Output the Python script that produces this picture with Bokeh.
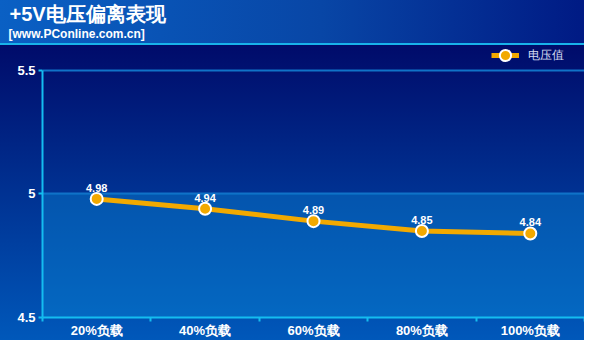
from bokeh.plotting import figure
from bokeh.models import (Range1d, LinearAxis, FixedTicker, BoxAnnotation, Title,
                          Legend, LegendItem, ColumnDataSource)
from bokeh.embed import file_html
from bokeh.resources import INLINE
from bokeh.core.properties import value

# ---- data ----
categories = ["20%负载", "40%负载", "60%负载", "80%负载", "100%负载"]
voltages = [4.98, 4.94, 4.89, 4.85, 4.84]
y_ticks = [4.5, 5, 5.5]
y_tick_labels = ["4.5", "5", "5.5"]
series_name = "电压值"
title_text = "+5V电压偏离表现"
subtitle_text = "[www.PConline.com.cn]"

FONT = "Liberation Sans"
CYAN = "#14bdf0"
ORANGE = "#f2a900"

src = ColumnDataSource(dict(cat=categories, v=voltages,
                            lbl=[f"{v:.2f}" for v in voltages]))

p = figure(width=584, height=340, x_range=categories, y_range=Range1d(4.5, 5.621),
           x_axis_type=None, title=None, output_backend="svg", toolbar_location=None,
           min_border_left=42, min_border_right=0, min_border_bottom=22, min_border_top=0)
p.background_fill_color = None
p.border_fill_color = None
p.outline_line_color = None
p.styles = {"background": (
    "linear-gradient(to right, #0a60c4, #0846a6 55%, #001a84) 0 0 / 100% 43px no-repeat, "
    "linear-gradient(#18b2ea, #18b2ea) 0 43px / 100% 2px no-repeat, "
    "linear-gradient(to bottom, #000b6a 0px, #000b6a 45px, #0058ba 100%)")}

# titles (subtitle first = nearest the plot)
p.add_layout(Title(text=subtitle_text, text_font=FONT, text_font_size="12px",
                   text_font_style="bold", text_color="white", offset=-34, standoff=0), "above")
p.add_layout(Title(text=title_text, text_font=FONT, text_font_size="20px",
                   text_font_style="bold", text_color="white", offset=-33, standoff=0), "above")

# lighter band 4.5 - 5
p.add_layout(BoxAnnotation(bottom=4.5, top=5, fill_color="#0a89d7", fill_alpha=0.4,
                           line_color=None, level="underlay"))

# y axis
yt = FixedTicker(ticks=y_ticks)
p.yaxis.ticker = yt
p.yaxis.bounds = (min(y_ticks), max(y_ticks))
p.yaxis.major_label_overrides = {t: l for t, l in zip(y_ticks, y_tick_labels)}
p.yaxis.axis_line_color = CYAN
p.yaxis.axis_line_width = 2
p.yaxis.major_tick_line_color = CYAN
p.yaxis.major_tick_line_width = 2
p.yaxis.major_tick_in = 0
p.yaxis.major_tick_out = 4
p.yaxis.minor_tick_line_color = None
p.yaxis.major_label_text_color = "white"
p.yaxis.major_label_text_font = FONT
p.yaxis.major_label_text_font_style = "bold"
p.yaxis.major_label_text_font_size = "13px"
p.yaxis.major_label_standoff = 3

p.ygrid.ticker = yt
p.ygrid.grid_line_color = "#1072c8"
p.ygrid.grid_line_width = 2
p.xgrid.visible = False

# x axis: labels at category centres, tick marks at category boundaries
n = len(categories)
centers = [i + 0.5 for i in range(n)]
bounds = list(range(n + 1))
xaxis = LinearAxis(ticker=FixedTicker(ticks=centers, minor_ticks=bounds),
                   major_label_overrides={c: cat for c, cat in zip(centers, categories)},
                   major_tick_line_color=None, major_tick_in=0, major_tick_out=0,
                   minor_tick_in=0, minor_tick_out=4,
                   minor_tick_line_color=CYAN, minor_tick_line_width=2,
                   axis_line_color=CYAN, axis_line_width=2, axis_label_standoff=0,
                   major_label_text_color="white", major_label_text_font=FONT,
                   major_label_text_font_style="bold", major_label_text_font_size="13px",
                   major_label_standoff=1)
p.add_layout(xaxis, "below")

# series
line_r = p.line(x="cat", y="v", source=src, line_color=ORANGE, line_width=5)
sc_r = p.scatter(x="cat", y="v", source=src, size=12, fill_color=ORANGE,
                 line_color="white", line_width=2)
p.text(x="cat", y="v", text="lbl", source=src, y_offset=-11, text_align="center",
       text_baseline="alphabetic", text_color="white", text_font=value(FONT),
       text_font_style="bold", text_font_size="11px")

legend = Legend(items=[LegendItem(label=series_name, renderers=[line_r, sc_r])],
                location=(449, 248), background_fill_alpha=0, border_line_alpha=0,
                padding=0, margin=0, glyph_width=28, glyph_height=28, label_standoff=9,
                label_text_color="#d4dcf0", label_text_font_size="12px",
                label_text_font=FONT)
p.add_layout(legend)

open("out.html", "w").write(file_html(p, INLINE))
